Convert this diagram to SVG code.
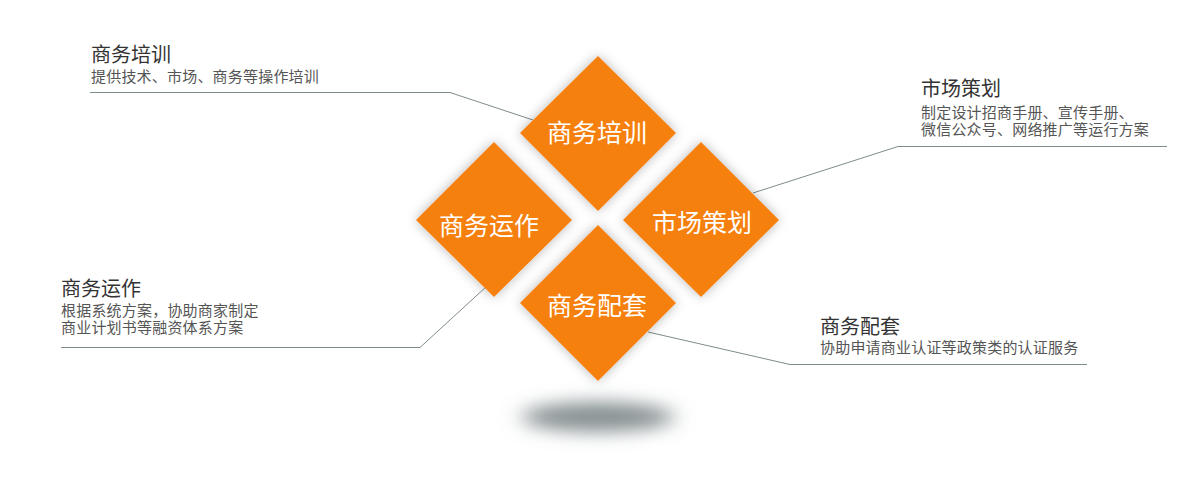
<svg xmlns="http://www.w3.org/2000/svg" width="1198" height="478" viewBox="0 0 1198 478">
<defs>
<filter id="glow" x="-30%" y="-30%" width="160%" height="160%">
<feDropShadow dx="0" dy="0" stdDeviation="6" flood-color="#000" flood-opacity="0.28"/>
</filter>
<filter id="blur" x="-50%" y="-200%" width="200%" height="500%">
<feGaussianBlur stdDeviation="11 9"/>
</filter>
</defs>
<style>
.d{fill:#f6800f;filter:url(#glow)}
.dt{fill:#fff;font-family:"Noto Sans CJK SC","Noto Sans",sans-serif;font-size:25px;text-anchor:middle;dominant-baseline:central}
.t{fill:#333;font-family:"Noto Sans CJK SC","Noto Sans",sans-serif;font-size:20px}
.s{fill:#555;font-family:"Noto Sans CJK SC","Noto Sans",sans-serif;font-size:15px;letter-spacing:0.2px}
.c{fill:none;stroke:#7f8c8d;stroke-width:1}
</style>
<rect width="1198" height="478" fill="#fff"/>
<ellipse cx="598" cy="417" rx="76" ry="15" fill="#869092" filter="url(#blur)"/>
<g id="connectors">
<polyline class="c" points="90,92.5 450,92.5 533,120"/>
<polyline class="c" points="1167,146.5 898,146.5 753,193"/>
<polyline class="c" points="61,347.5 420,347.5 487,286"/>
<polyline class="c" points="648,332 790,364.5 1087,364.5"/>
</g>
<g id="node-training">
<polygon class="d" points="598,56 676,133 598,211 520,133"/>
<text class="dt" x="597" y="131">商务培训</text>
</g>
<g id="node-operation">
<polygon class="d" points="494,142 572,220 494,297 416,220"/>
<text class="dt" x="489" y="224">商务运作</text>
</g>
<g id="node-marketing">
<polygon class="d" points="701,142 779,220 701,297 623,220"/>
<text class="dt" x="702" y="221">市场策划</text>
</g>
<g id="node-support">
<polygon class="d" points="598,225 676,303 598,381 520,303"/>
<text class="dt" x="597" y="304">商务配套</text>
</g>
<g id="label-training">
<text class="t" x="91" y="62">商务培训</text>
<text class="s" x="91" y="82">提供技术、市场、商务等操作培训</text>
</g>
<g id="label-marketing">
<text class="t" x="921" y="96">市场策划</text>
<text class="s" x="921" y="118">制定设计招商手册、宣传手册、</text>
<text class="s" x="921" y="135">微信公众号、网络推广等运行方案</text>
</g>
<g id="label-operation">
<text class="t" x="61" y="296">商务运作</text>
<text class="s" x="61" y="316">根据系统方案，协助商家制定</text>
<text class="s" x="61" y="333">商业计划书等融资体系方案</text>
</g>
<g id="label-support">
<text class="t" x="820" y="334">商务配套</text>
<text class="s" x="820" y="353">协助申请商业认证等政策类的认证服务</text>
</g>
</svg>
